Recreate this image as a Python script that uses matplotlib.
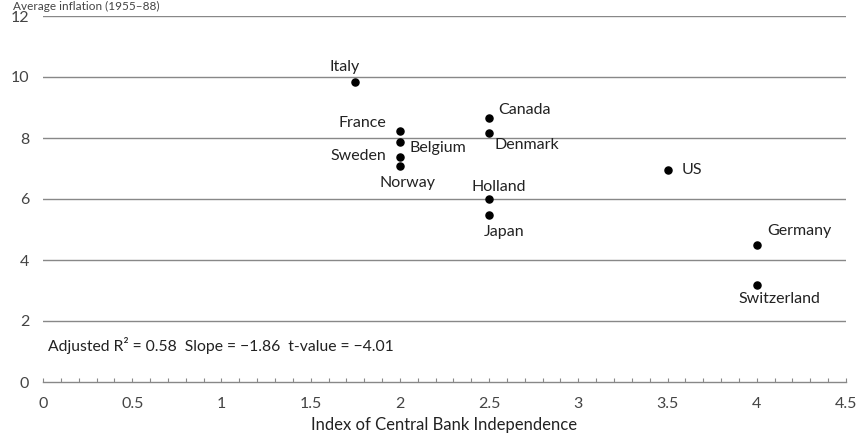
import matplotlib
matplotlib.use("Agg")
import matplotlib.pyplot as plt
from matplotlib.ticker import MultipleLocator

countries = ["Italy", "France", "Belgium", "Sweden", "Norway", "Canada", "Denmark",
             "Holland", "Japan", "US", "Germany", "Switzerland"]
cbi_index = [1.75, 2.0, 2.0, 2.0, 2.0, 2.5, 2.5, 2.5, 2.5, 3.5, 4.0, 4.0]
inflation = [9.85, 8.24, 7.87, 7.37, 7.09, 8.65, 8.17, 6.0, 5.48, 6.95, 4.5, 3.18]
x_ticks = [0, 0.5, 1, 1.5, 2, 2.5, 3, 3.5, 4, 4.5]
x_tick_labels = ["0", "0.5", "1", "1.5", "2", "2.5", "3", "3.5", "4", "4.5"]
y_ticks = [0, 2, 4, 6, 8, 10, 12]
stats_text = "Adjusted R² = 0.58  Slope = −1.86  t-value = −4.01"
y_title = "Average inflation (1955–88)"
x_title = "Index of Central Bank Independence"

# label placement (offset in pixels, ha)
label_pos = {
    "Italy": (-11, 15, "center"),
    "France": (-14, 8, "right"),
    "Belgium": (10, -6, "left"),
    "Sweden": (-14, 1, "right"),
    "Norway": (8, -17, "center"),
    "Canada": (9, 8, "left"),
    "Denmark": (5, -12, "left"),
    "Holland": (10, 12, "center"),
    "Japan": (15, -17, "center"),
    "US": (14, 0, "left"),
    "Germany": (10, 14, "left"),
    "Switzerland": (23, -14, "center"),
}

plt.rcParams['font.family'] = ['Lato', 'DejaVu Sans']
text_c = "#222222"
tick_c = "#444444"
grid_c = "#888888"

fig = plt.figure(figsize=(8.58, 4.33), dpi=100)
ax = fig.add_axes([43/858, 1-382/433, (846-43)/858, (382-16)/433])
ax.set_xlim(0, 4.5)
ax.set_ylim(0, 12)
ax.set_yticks(y_ticks)
for y in y_ticks[1:]:
    ax.axhline(y, color=grid_c, lw=1.0, zorder=1)
for s in ["top", "right", "left"]:
    ax.spines[s].set_visible(False)
ax.spines["bottom"].set_color(grid_c)
ax.spines["bottom"].set_linewidth(1.0)

ax.set_xticks(x_ticks)
ax.set_xticklabels(x_tick_labels)
ax.xaxis.set_minor_locator(MultipleLocator(0.1))
ax.tick_params(axis="x", which="both", direction="in", length=3, width=0.8,
               color=grid_c, labelsize=11.5, labelcolor=tick_c, pad=11)
ax.tick_params(axis="y", length=0, labelsize=11.5, labelcolor=tick_c, pad=10)

ax.scatter(cbi_index, inflation, s=26, color="black", zorder=3)
for name, xv, yv in zip(countries, cbi_index, inflation):
    dx, dy, ha = label_pos[name]
    ax.annotate(name, (xv, yv), xytext=(dx, dy), textcoords="offset pixels",
                ha=ha, va="center", fontsize=11.5, color=text_c)

fig.text(48/858, 1 - 346/433, stats_text, fontsize=11.3,
         color=text_c, va="center", ha="left")
ax.set_xlabel(x_title, fontsize=12, color=text_c, labelpad=4)
fig.text(13/858, 1 - 1/433, y_title, fontsize=8.5, color=tick_c, va="top", ha="left")

fig.savefig("out.png", dpi=100)
